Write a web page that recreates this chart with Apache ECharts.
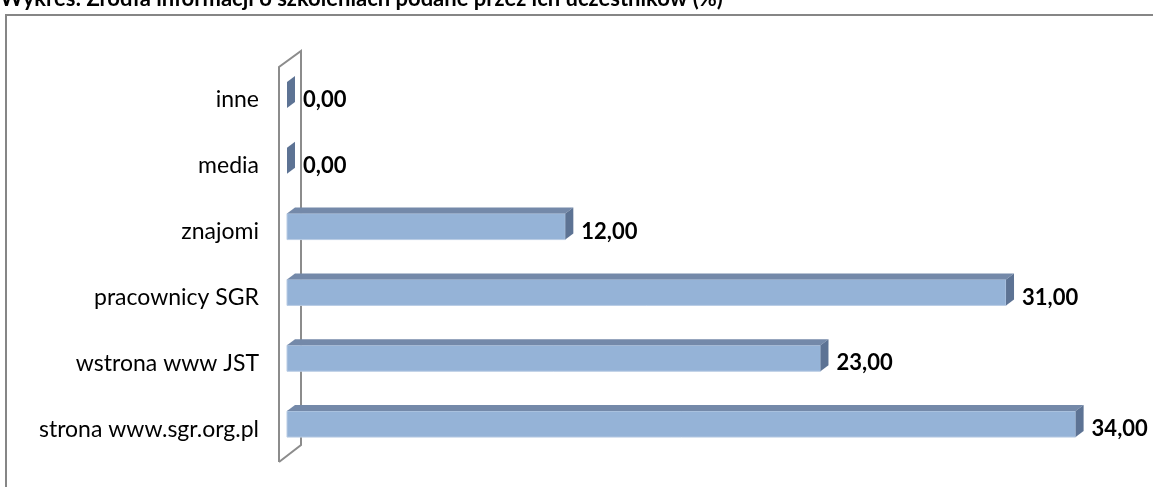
<!DOCTYPE html>
<html lang="pl">
<head>
    <meta charset="UTF-8">
    <title>Źródła informacji o szkoleniach</title>
    <style>
        *{
            margin: 0;
            padding: 0;
        }
        html, body{
            background: #fff;
        }
        .main{
            width: 1153px;
            height: 487px;
        }
    </style>
    <script src="https://cdn.jsdelivr.net/npm/echarts@6/dist/echarts.min.js"></script>
</head>
<body>
<div class="main"></div>
<script>
    // data, bottom to top as on the chart
    let categories = ['strona www.sgr.org.pl', 'wstrona www JST', 'pracownicy SGR', 'znajomi', 'media', 'inne'];
    let values = [34, 23, 31, 12, 0, 0];
    let titleText = 'Wykres: Źródła informacji o szkoleniach podane przez ich uczestników (%)';

    let main = document.querySelector('.main');
    let chart = echarts.init(main);

    // 3d look of the bars
    let depthX = 8, depthY = 6, barH = 26, shiftY = -5;

    function fmt(v){
        return v.toFixed(2).replace('.', ',');
    }

    function renderBar(params, api){
        let cat = api.value(1);
        let start = api.coord([0, cat]);
        let end = api.coord([api.value(0), cat]);
        let x0 = start[0], x1 = end[0];
        let y0 = start[1] + shiftY - barH / 2;
        let y1 = y0 + barH;
        let children = [];
        if (x1 > x0){
            children.push({
                type: 'rect',
                shape: {x: x0, y: y0, width: x1 - x0, height: barH},
                style: {fill: '#95b3d7', stroke: '#b9cce4', lineWidth: 1}
            });
            children.push({
                type: 'polygon',
                shape: {points: [[x0, y0], [x0 + depthX, y0 - depthY], [x1 + depthX, y0 - depthY], [x1, y0]]},
                style: {fill: '#7489a9'}
            });
        }
        children.push({
            type: 'polygon',
            shape: {points: [[x1, y0], [x1 + depthX, y0 - depthY], [x1 + depthX, y1 - depthY], [x1, y1]]},
            style: {fill: '#5d7394'}
        });
        children.push({
            type: 'text',
            style: {
                x: x1 + depthX + 8,
                y: start[1],
                text: fmt(api.value(0)),
                fill: '#000',
                font: 'bold 22px Lato',
                verticalAlign: 'middle',
                align: 'left'
            }
        });
        return {type: 'group', children: children};
    }

    let option = {
        backgroundColor: '#fff',
        animation: false,
        grid: {
            left: 287,
            right: 31,
            top: 67,
            bottom: 25
        },
        xAxis: {
            type: 'value',
            min: 0,
            max: 36,
            show: false
        },
        yAxis: {
            type: 'category',
            data: categories,
            axisLine: {show: false},
            axisTick: {show: false},
            splitLine: {show: false},
            axisLabel: {
                margin: 28,
                fontFamily: 'Lato',
                fontSize: 23,
                color: '#000'
            }
        },
        graphic: [
            {
                type: 'rect',
                z: 0,
                shape: {x: 6, y: 15, width: 1160, height: 500},
                style: {fill: 'none', stroke: '#868686', lineWidth: 2}
            },
            {
                type: 'polyline',
                z: 0,
                shape: {points: [[279, 462], [279, 67], [301, 51], [301, 445], [279, 462]]},
                style: {fill: 'none', stroke: '#8c8c8c', lineWidth: 2}
            },
            {
                type: 'text',
                left: 0,
                top: -12,
                style: {
                    text: titleText,
                    font: 'bold 22px Lato',
                    fill: '#000'
                }
            }
        ],
        series: [{
            type: 'custom',
            renderItem: renderBar,
            encode: {x: 0, y: 1},
            data: values.map((v, i) => [v, i])
        }]
    };
    chart.setOption(option);
</script>
</body>
</html>
